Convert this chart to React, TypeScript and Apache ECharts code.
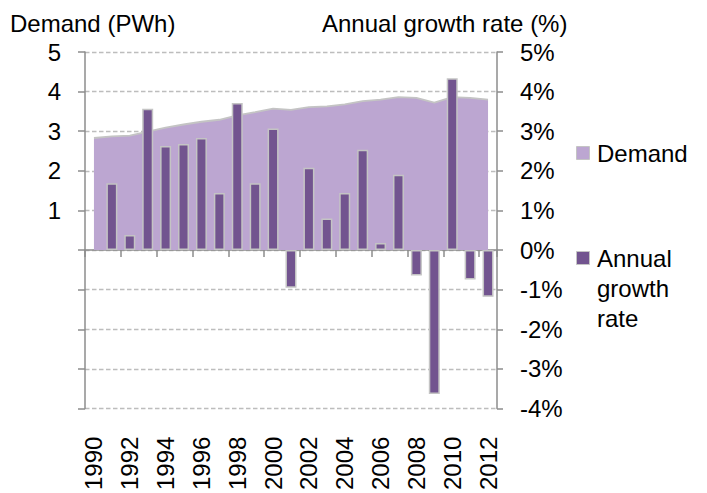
import React, { useEffect, useRef } from "react";
import * as echarts from "echarts";

const years = [
  "1990", "1991", "1992", "1993", "1994", "1995", "1996", "1997", "1998", "1999",
  "2000", "2001", "2002", "2003", "2004", "2005", "2006", "2007", "2008", "2009",
  "2010", "2011", "2012",
];
const demand = [
  2.83, 2.87, 2.89, 2.99, 3.09, 3.17, 3.24, 3.29, 3.40, 3.48,
  3.57, 3.54, 3.61, 3.63, 3.68, 3.76, 3.80, 3.86, 3.84, 3.72,
  3.86, 3.84, 3.80,
];
const growth = [
  null, 1.69, 0.38, 3.57, 2.63, 2.68, 2.83, 1.44, 3.71, 1.69,
  3.07, -0.95, 2.08, 0.80, 1.44, 2.53, 0.18, 1.90, -0.64, -3.63,
  4.34, -0.74, -1.18,
];
const leftAxisTitle = "Demand (PWh)";
const rightAxisTitle = "Annual growth rate (%)";
const legendNames = ["Demand", "Annual\ngrowth\nrate"];

const FONT = "'Liberation Sans', Arial, sans-serif";
const AREA = "#bca6d1";
const BAR = "#72548f";
const BORDER = "#c4c4c4";
const AXIS = "#8c8c8c";

export default function App() {
  const ref = useRef<HTMLDivElement>(null);
  useEffect(() => {
    if (!ref.current) return;
    const chart = echarts.init(ref.current, null, { renderer: "svg" });
    const textStyle = { fontFamily: FONT, fontSize: 24, color: "#000" };
    chart.setOption({
      animation: false,
      textStyle: { fontFamily: FONT },
      grid: { left: 85, right: 210, top: 52, bottom: 81, containLabel: false },
      xAxis: [
        {
          type: "category",
          data: years,
          boundaryGap: true,
          axisLine: { show: true, onZero: true, lineStyle: { color: AXIS, width: 1.5 } },
          axisTick: { show: true, interval: 1, length: 7, lineStyle: { color: AXIS, width: 1.5 } },
          axisLabel: { show: false },
          splitLine: { show: false },
        },
        {
          type: "category",
          data: years,
          position: "bottom",
          boundaryGap: true,
          axisLine: { show: false, onZero: false },
          axisTick: { show: false },
          axisLabel: { show: true, interval: 1, rotate: 90, margin: 28, ...textStyle },
          splitLine: { show: false },
        },
      ],
      yAxis: [
        {
          type: "value",
          min: -4,
          max: 5,
          interval: 1,
          position: "left",
          axisLine: { show: true, lineStyle: { color: AXIS, width: 1.5 } },
          axisTick: { show: true, length: 7, lineStyle: { color: AXIS, width: 1.5 } },
          axisLabel: {
            margin: 24,
            formatter: (v: number) => (v > 0 ? String(v) : ""),
            ...textStyle,
          },
          splitLine: { show: true, lineStyle: { color: "#bdbdbd", width: 1.3, type: [4.5, 2.5] } },
        },
        {
          type: "value",
          min: -4,
          max: 5,
          interval: 1,
          position: "right",
          axisLine: { show: true, lineStyle: { color: AXIS, width: 1.5 } },
          axisTick: { show: true, length: 6, lineStyle: { color: AXIS, width: 1.5 } },
          axisLabel: { margin: 23, formatter: "{value}%", ...textStyle },
          splitLine: { show: false },
        },
      ],
      series: [
        {
          name: "Demand",
          type: "line",
          xAxisIndex: 0,
          yAxisIndex: 0,
          data: demand,
          symbol: "none",
          lineStyle: { color: BORDER, width: 1.8 },
          areaStyle: { color: AREA, opacity: 1 },
          z: 2,
        },
        {
          name: "Annual growth rate",
          type: "bar",
          xAxisIndex: 0,
          yAxisIndex: 1,
          data: growth,
          barWidth: 11,
          itemStyle: { color: BAR, borderColor: BORDER, borderWidth: 1.5 },
          z: 3,
        },
      ],
      graphic: [
        {
          type: "text",
          left: 10,
          top: 11,
          style: { text: leftAxisTitle, font: `24px ${FONT}`, fill: "#000" },
        },
        {
          type: "text",
          left: 322,
          top: 11,
          style: { text: rightAxisTitle, font: `24px ${FONT}`, fill: "#000" },
        },
        {
          type: "rect",
          left: 576,
          top: 146,
          shape: { width: 13, height: 13 },
          style: { fill: AREA, stroke: BORDER, lineWidth: 1 },
        },
        {
          type: "text",
          left: 597,
          top: 141,
          style: { text: legendNames[0], font: `24px ${FONT}`, fill: "#000" },
        },
        {
          type: "rect",
          left: 576,
          top: 251,
          shape: { width: 13, height: 13 },
          style: { fill: BAR, stroke: BORDER, lineWidth: 1 },
        },
        {
          type: "text",
          left: 597,
          top: 243,
          style: { text: legendNames[1], font: `24px ${FONT}`, fill: "#000", lineHeight: 30 },
        },
      ],
    });
    return () => chart.dispose();
  }, []);
  return <div ref={ref} style={{ width: 707, height: 493, position: "absolute", left: 0, top: 0 }} />;
}
